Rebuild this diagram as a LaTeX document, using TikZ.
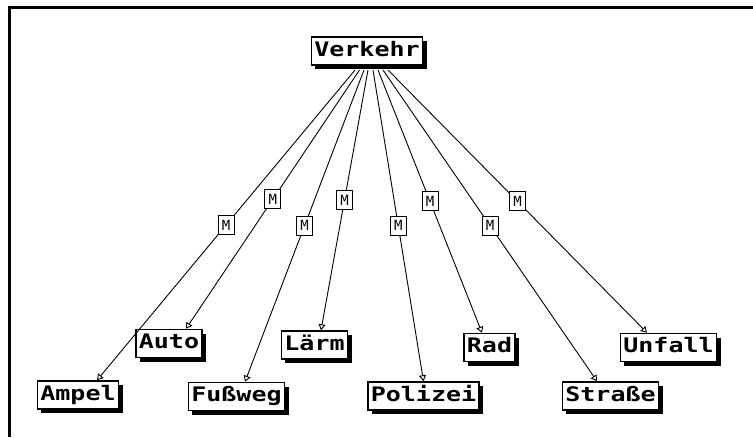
\documentclass[tikz,border=0pt]{standalone}
\usepackage{fontspec}
\newfontfamily\boxfont[FakeStretch=1.25]{DejaVu Sans Mono}
\newfontfamily\mfont[FakeStretch=1.0]{DejaVu Sans Mono}
\usetikzlibrary{arrows.meta,shadows}
\tikzset{
  box/.style={draw, line width=1.5pt, fill=white,
    font=\boxfont\bfseries\fontsize{20}{20}\selectfont,
    text height=14.5pt, text depth=4pt, minimum height=28pt,
    inner xsep=3pt, inner ysep=0pt,
    drop shadow={shadow xshift=4pt, shadow yshift=-4pt, fill=black, opacity=1}},
  mbox/.style={draw, line width=1pt, fill=white,
    font=\mfont\fontsize{14}{14}\selectfont,
    minimum width=16pt, minimum height=19pt, inner sep=0pt},
  conn/.style={line width=0.9pt, -{Triangle[open, length=6pt, width=7pt]}},
  frame/.style={line width=3pt}
}
\begin{document}
\begin{tikzpicture}[x=1pt,y=-1pt]
\useasboundingbox (0,0) rectangle (753,437);
\fill[white] (0,0) rectangle (753,437);
\draw[frame] (9,437) -- (9,7.5) -- (753,7.5);

\node[box] (verkehr) at (367,51) {Verkehr};
\node[box] (auto) at (169,343.5) {Auto};
\node[box] (ampel) at (78,395) {Ampel};
\node[box] (fussweg) at (236.5,396.5) {Fußweg};
\node[box] (laerm) at (314.5,345) {Lärm};
\node[box] (polizei) at (423.5,396) {Polizei};
\node[box] (rad) at (489.5,347.5) {Rad};
\node[box] (strasse) at (610.5,396) {Straße};
\node[box] (unfall) at (668.5,347.5) {Unfall};

\coordinate (s1) at (355,70);
\coordinate (s2) at (359.5,70);
\coordinate (s3) at (364,70);
\coordinate (s4) at (368,70);
\coordinate (s5) at (373,70);
\coordinate (s6) at (378,70);
\coordinate (s7) at (383,70);
\coordinate (s8) at (388,70);

\draw[conn] (s1) -- node[mbox]{M} ([xshift=19pt]ampel.north);
\draw[conn] (s2) -- node[mbox]{M} ([xshift=17pt]auto.north);
\draw[conn] (s3) -- node[mbox]{M} ([xshift=8.5pt]fussweg.north);
\draw[conn] (s4) -- node[mbox]{M} ([xshift=6.5pt]laerm.north);
\draw[conn] (s5) -- node[mbox]{M} ([xshift=0pt]polizei.north);
\draw[conn] (s6) -- node[mbox]{M} ([xshift=-7.5pt]rad.north);
\draw[conn] (s7) -- node[mbox]{M} ([xshift=-13.5pt]strasse.north);
\draw[conn] (s8) -- node[mbox]{M} ([xshift=-21.5pt]unfall.north);
\end{tikzpicture}
\end{document}
